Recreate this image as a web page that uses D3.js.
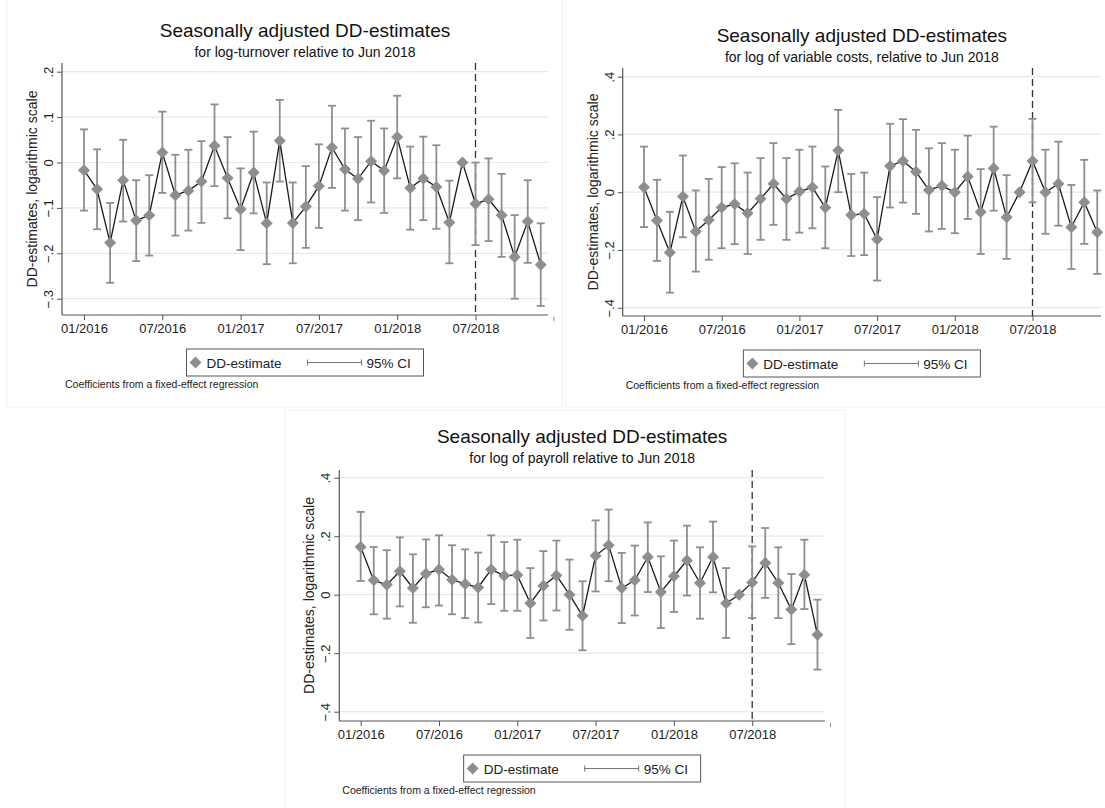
<!DOCTYPE html>
<html>
<head>
<meta charset="utf-8">
<script src="https://cdn.jsdelivr.net/npm/d3@7"></script>
<style>
  body { margin: 0; background: #fff; }
  svg { font-family: "Liberation Sans", Arial, sans-serif; }
</style>
</head>
<body>
<svg id="chart" width="1105" height="808"></svg>
<script>
// months 01/2016 .. 12/2018, index 29 (06/2018) is the reference month
var months = d3.range(36);
var tickMonths = [0, 6, 12, 18, 24, 30];
var tickLabels = ["01/2016", "07/2016", "01/2017", "07/2017", "01/2018", "07/2018"];
var breakMonth = 30;

// log-turnover
var turnoverEst = [-0.017, -0.059, -0.177, -0.039, -0.128, -0.116, 0.022, -0.072, -0.062, -0.042, 0.037, -0.034,
  -0.103, -0.022, -0.134, 0.048, -0.133, -0.097, -0.052, 0.033, -0.015, -0.036, 0.003, -0.018,
  0.056, -0.056, -0.035, -0.054, -0.132, 0, -0.091, -0.081, -0.116, -0.208, -0.130, -0.225];
var turnoverHi = [0.073, 0.029, -0.089, 0.050, -0.039, -0.028, 0.112, 0.017, 0.028, 0.047, 0.128, 0.056,
  -0.013, 0.068, -0.044, 0.138, -0.044, -0.008, 0.040, 0.125, 0.075, 0.056, 0.092, 0.075,
  0.147, 0.035, 0.057, 0.038, -0.040, null, 0.000, 0.009, -0.025, -0.116, -0.039, -0.134];
var turnoverLo = [-0.106, -0.147, -0.265, -0.130, -0.217, -0.205, -0.067, -0.161, -0.150, -0.133, -0.052, -0.123,
  -0.193, -0.112, -0.224, -0.042, -0.222, -0.188, -0.144, -0.056, -0.106, -0.127, -0.088, -0.111,
  -0.035, -0.148, -0.127, -0.146, -0.222, null, -0.182, -0.173, -0.208, -0.300, -0.221, -0.316];

// log of variable costs
var costsEst = [0.017, -0.098, -0.209, -0.015, -0.136, -0.096, -0.053, -0.041, -0.073, -0.023, 0.029, -0.023,
  0.002, 0.017, -0.053, 0.144, -0.079, -0.075, -0.163, 0.091, 0.108, 0.071, 0.008, 0.022,
  0.000, 0.054, -0.069, 0.083, -0.087, 0, 0.108, 0.000, 0.029, -0.121, -0.035, -0.139];
var costsHi = [0.158, 0.043, -0.068, 0.127, 0.006, 0.046, 0.087, 0.100, 0.068, 0.118, 0.170, 0.118,
  0.147, 0.158, 0.089, 0.285, 0.063, 0.068, -0.017, 0.237, 0.253, 0.216, 0.152, 0.170,
  0.147, 0.196, 0.080, 0.227, 0.059, null, 0.254, 0.147, 0.175, 0.025, 0.112, 0.006];
var costsLo = [-0.121, -0.238, -0.348, -0.156, -0.275, -0.234, -0.194, -0.180, -0.214, -0.165, -0.113, -0.165,
  -0.140, -0.125, -0.194, 0.000, -0.221, -0.218, -0.306, -0.053, -0.036, -0.075, -0.136, -0.127,
  -0.142, -0.093, -0.214, -0.064, -0.231, null, -0.035, -0.144, -0.116, -0.266, -0.179, -0.283];

// log of payroll
var payrollEst = [0.163, 0.049, 0.034, 0.080, 0.023, 0.072, 0.086, 0.051, 0.037, 0.025, 0.086, 0.065,
  0.067, -0.029, 0.031, 0.066, 0.000, -0.072, 0.133, 0.169, 0.023, 0.049, 0.129, 0.009,
  0.063, 0.117, 0.040, 0.129, -0.029, 0, 0.042, 0.108, 0.040, -0.051, 0.068, -0.137];
var payrollHi = [0.283, 0.163, 0.152, 0.196, 0.138, 0.189, 0.203, 0.169, 0.155, 0.144, 0.203, 0.180,
  0.188, 0.091, 0.149, 0.185, 0.120, 0.046, 0.254, 0.291, 0.143, 0.168, 0.247, 0.131,
  0.185, 0.236, 0.162, 0.250, 0.091, null, 0.165, 0.228, 0.162, 0.071, 0.188, -0.017];
var payrollLo = [0.047, -0.067, -0.082, -0.040, -0.096, -0.043, -0.037, -0.067, -0.080, -0.095, -0.032, -0.055,
  -0.055, -0.148, -0.088, -0.054, -0.120, -0.190, 0.011, 0.046, -0.097, -0.071, 0.009, -0.114,
  -0.059, -0.003, -0.082, 0.008, -0.148, null, -0.080, -0.011, -0.080, -0.169, -0.049, -0.256];

var turnoverTicks = [-0.3, -0.2, -0.1, 0, 0.1, 0.2];
var wideTicks = [-0.4, -0.2, 0, 0.2, 0.4];

var svg = d3.select("#chart");

// faint panel frames
[[7, -1, 555, 408], [565, -1, 541, 408], [285, 410, 560, 399]].forEach(function(r) {
  svg.append("rect").attr("x", r[0]).attr("y", r[1]).attr("width", r[2]).attr("height", r[3])
    .attr("fill", "none").attr("stroke", "#f0f0f0").attr("stroke-width", 1);
});

function fmtTick(v) {
  if (Math.abs(v) < 1e-9) return "0";
  return d3.format(".1f")(v).replace("0.", ".");
}

function diamond(cx, cy, r) {
  return "M" + cx + "," + (cy - r) + "L" + (cx + r) + "," + cy + "L" + cx + "," + (cy + r) + "L" + (cx - r) + "," + cy + "Z";
}

function drawPanel(p) {
  var g = svg.append("g");
  var x = d3.scaleLinear().domain([0, 35]).range([p.x0, p.x0 + 35 * p.step]);
  var y = d3.scaleLinear().domain(p.yDomain).range(p.yRange);
  var cx = (p.left + p.right) / 2;

  // titles
  g.append("text").attr("x", cx).attr("y", p.titleY).attr("text-anchor", "middle")
    .attr("font-size", 19).attr("fill", "#111").text("Seasonally adjusted DD-estimates");
  g.append("text").attr("x", cx).attr("y", p.titleY + 20).attr("text-anchor", "middle")
    .attr("font-size", 14).attr("fill", "#111").text(p.subtitle);

  // gridlines
  g.selectAll(".grid").data(p.yTicks).enter().append("line")
    .attr("x1", p.left).attr("x2", p.right)
    .attr("y1", function(d) { return y(d); }).attr("y2", function(d) { return y(d); })
    .attr("stroke", "#e8e8e8").attr("stroke-width", 1.2);

  // y axis
  var ya = g.append("g").attr("transform", "translate(" + p.left + ",0)")
    .call(d3.axisLeft(y).tickValues(p.yTicks).tickFormat(fmtTick).tickSize(5).tickSizeOuter(0));
  ya.select(".domain").remove();
  ya.selectAll("line").attr("stroke", "#555");
  ya.selectAll("text").attr("x", null).attr("dy", "0.35em")
    .attr("transform", "translate(-13.5,0) rotate(-90)")
    .attr("text-anchor", "middle").attr("font-size", 13).attr("fill", "#222")
    .attr("font-family", "Liberation Sans, Arial, sans-serif");

  // x axis
  var xa = g.append("g").attr("transform", "translate(0," + p.bottom + ")")
    .call(d3.axisBottom(x).tickValues(tickMonths)
      .tickFormat(function(d, i) { return tickLabels[i]; }).tickSize(5).tickSizeOuter(0));
  xa.select(".domain").remove();
  xa.selectAll("line").attr("stroke", "#555");
  xa.selectAll("text").attr("y", 9).attr("dy", "0.71em").attr("font-size", 13).attr("fill", "#222")
    .attr("font-family", "Liberation Sans, Arial, sans-serif");
  // stray tick beyond the axis end (01/2019)
  g.append("line").attr("x1", x(36)).attr("x2", x(36))
    .attr("y1", p.bottom + 2).attr("y2", p.bottom + 6).attr("stroke", "#888");

  // frame lines
  g.append("line").attr("x1", p.left).attr("x2", p.left).attr("y1", p.top).attr("y2", p.bottom)
    .attr("stroke", "#555").attr("stroke-width", 1.2);
  g.append("line").attr("x1", p.left).attr("x2", p.right).attr("y1", p.bottom).attr("y2", p.bottom)
    .attr("stroke", "#555").attr("stroke-width", 1.2);

  // y axis title
  g.append("text").attr("transform", "translate(" + (p.left - 30) + "," + ((p.top + p.bottom) / 2) + ") rotate(-90)")
    .attr("text-anchor", "middle").attr("dy", "0.35em").attr("font-size", 14).attr("fill", "#222")
    .text("DD-estimates, logarithmic scale");

  // dashed reference line
  g.append("line").attr("x1", x(breakMonth)).attr("x2", x(breakMonth))
    .attr("y1", p.top).attr("y2", p.bottom)
    .attr("stroke", "#333").attr("stroke-width", 1.3).attr("stroke-dasharray", "7,4");

  var rows = months.map(function(m) { return { m: m, est: p.est[m], lo: p.lo[m], hi: p.hi[m] }; });
  var ci = rows.filter(function(d) { return d.lo !== null; });

  // CI bars
  var bars = g.append("g").attr("stroke", "#8e8e8e").attr("stroke-width", 1.8);
  bars.selectAll(".v").data(ci).enter().append("line")
    .attr("x1", function(d) { return x(d.m); }).attr("x2", function(d) { return x(d.m); })
    .attr("y1", function(d) { return y(d.lo); }).attr("y2", function(d) { return y(d.hi); });
  bars.selectAll(".t").data(ci).enter().append("line")
    .attr("x1", function(d) { return x(d.m) - 4; }).attr("x2", function(d) { return x(d.m) + 4; })
    .attr("y1", function(d) { return y(d.hi); }).attr("y2", function(d) { return y(d.hi); });
  bars.selectAll(".b").data(ci).enter().append("line")
    .attr("x1", function(d) { return x(d.m) - 4; }).attr("x2", function(d) { return x(d.m) + 4; })
    .attr("y1", function(d) { return y(d.lo); }).attr("y2", function(d) { return y(d.lo); });

  // connecting line
  var line = d3.line().x(function(d) { return x(d.m); }).y(function(d) { return y(d.est); });
  g.append("path").datum(rows).attr("d", line).attr("fill", "none")
    .attr("stroke", "#1a1a1a").attr("stroke-width", 1.3);

  // markers
  g.selectAll(".mk").data(rows).enter().append("path")
    .attr("d", function(d) { return diamond(x(d.m), y(d.est), 6); })
    .attr("fill", "#8e8e8e");

  // legend
  var lx = cx - 118.5, ly = p.bottom + 34;
  var lg = g.append("g").attr("transform", "translate(" + lx + "," + ly + ")");
  lg.append("rect").attr("width", 237).attr("height", 27).attr("fill", "#fff")
    .attr("stroke", "#555").attr("stroke-width", 1);
  lg.append("path").attr("d", diamond(9, 13.5, 6)).attr("fill", "#8e8e8e");
  lg.append("text").attr("x", 20).attr("y", 18.5).attr("font-size", 13.5).attr("fill", "#222").text("DD-estimate");
  lg.append("line").attr("x1", 121).attr("x2", 175).attr("y1", 13.5).attr("y2", 13.5).attr("stroke", "#777");
  lg.append("line").attr("x1", 121).attr("x2", 121).attr("y1", 10.5).attr("y2", 16.5).attr("stroke", "#777");
  lg.append("line").attr("x1", 175).attr("x2", 175).attr("y1", 10.5).attr("y2", 16.5).attr("stroke", "#777");
  lg.append("text").attr("x", 180).attr("y", 18.5).attr("font-size", 13.5).attr("fill", "#222").text("95% CI");

  // note
  g.append("text").attr("x", p.left + 3).attr("y", p.bottom + 73).attr("font-size", 10.5).attr("fill", "#222")
    .text("Coefficients from a fixed-effect regression");
}

drawPanel({
  subtitle: "for log-turnover relative to Jun 2018", titleY: 37,
  est: turnoverEst, lo: turnoverLo, hi: turnoverHi, yTicks: turnoverTicks,
  x0: 84, step: 13.05, yDomain: [-0.3, 0.2], yRange: [298.7, 71.7],
  left: 62, right: 548, top: 63, bottom: 315
});
drawPanel({
  subtitle: "for log of variable costs, relative to Jun 2018", titleY: 42,
  est: costsEst, lo: costsLo, hi: costsHi, yTicks: wideTicks,
  x0: 644, step: 12.95, yDomain: [-0.4, 0.4], yRange: [307.7, 76.7],
  left: 622.7, right: 1101, top: 68, bottom: 316
});
drawPanel({
  subtitle: "for log of payroll relative to Jun 2018", titleY: 443,
  est: payrollEst, lo: payrollLo, hi: payrollHi, yTicks: wideTicks,
  x0: 360.7, step: 13.05, yDomain: [-0.4, 0.4], yRange: [711.7, 477.7],
  left: 339.3, right: 825, top: 470, bottom: 721
});
</script>
</body>
</html>
